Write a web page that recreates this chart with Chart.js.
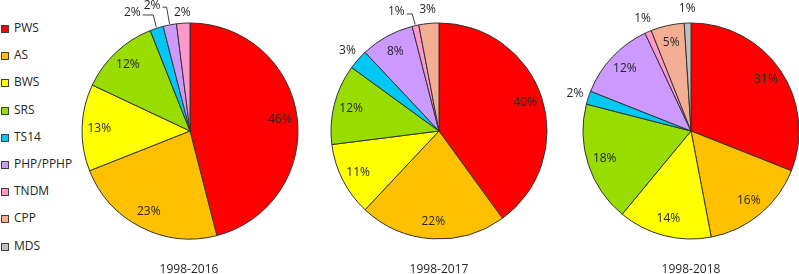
<!DOCTYPE html>
<html>
<head>
<meta charset="utf-8">
<script src="https://cdn.jsdelivr.net/npm/chart.js@4.4.1/dist/chart.umd.min.js"></script>
<style>
  body { margin: 0; background: #fff; overflow: hidden; width: 799px; height: 274px; position: relative; font-family: "Open Sans", sans-serif; }
  canvas { position: absolute; top: 0; }
  .legend { position: absolute; left: 1px; top: 14px; font-size: 12px; color: #262626; }
  .legend div { height: 27.2px; line-height: 27.2px; white-space: nowrap; }
  .legend span { display: inline-block; width: 6px; height: 6px; border: 1px solid #404040; margin-right: 5px; vertical-align: -1px; }
  .title { position: absolute; top: 260px; width: 200px; text-align: center; font-size: 12px; color: #262626; }
</style>
</head>
<body>
<div class="legend" id="legend"></div>
<canvas id="pie1" width="240" height="262" style="left:70px"></canvas>
<canvas id="pie2" width="240" height="262" style="left:319px"></canvas>
<canvas id="pie3" width="250" height="262" style="left:561px"></canvas>
<div class="title" style="left:89px">1998-2016</div>
<div class="title" style="left:339px">1998-2017</div>
<div class="title" style="left:591px">1998-2018</div>
<script>
const categories = ["PWS", "AS", "BWS", "SRS", "TS14", "PHP/PPHP", "TNDM", "CPP", "MDS"];
const colors = ["#ff0000", "#ffc000", "#ffff00", "#99dd00", "#00c8f5", "#cc99ff", "#ff99cc", "#f4ae94", "#bfbfbf"];
const periods = ["1998-2016", "1998-2017", "1998-2018"];
const share2016 = [46, 23, 13, 12, 2, 2, 2, 0, 0];
const share2017 = [40, 22, 11, 12, 3, 8, 1, 3, 0];
const share2018 = [31, 16, 14, 18, 2, 12, 1, 5, 1];

// legend
const legend = document.getElementById("legend");
categories.forEach((c, i) => {
  const row = document.createElement("div");
  row.innerHTML = '<span style="background:' + colors[i] + '"></span>' + c;
  legend.appendChild(row);
});

// percent labels, inside for big slices, outside (with optional leader) for small ones
const pctLabels = {
  id: "pctLabels",
  afterDatasetsDraw(chart, args, opts) {
    const ctx = chart.ctx;
    const data = chart.data.datasets[0].data;
    const moved = opts.moved || {};
    ctx.save();
    ctx.font = "12px 'Open Sans'";
    ctx.fillStyle = "#262626";
    ctx.strokeStyle = "#404040";
    ctx.lineWidth = 1;
    ctx.textAlign = "center";
    ctx.textBaseline = "middle";
    chart.getDatasetMeta(0).data.forEach((arc, i) => {
      const v = data[i];
      if (!v) return;
      const p = arc.getProps(["x", "y", "startAngle", "endAngle", "outerRadius"], true);
      const mid = (p.startAngle + p.endAngle) / 2;
      const cos = Math.cos(mid), sin = Math.sin(mid);
      const text = v + "%";
      if (v >= 5) {
        ctx.fillText(text, p.x + cos * p.outerRadius * 0.84, p.y + sin * p.outerRadius * 0.84);
        return;
      }
      let lx = p.x + cos * (p.outerRadius + 14);
      let ly = p.y + sin * (p.outerRadius + 14);
      const m = moved[i];
      if (m) {
        lx += m.dx; ly += m.dy;
        if (m.leader) {
          const w = ctx.measureText(text).width;
          const ex = p.x + cos * (p.outerRadius + 1);
          const ey = p.y + sin * (p.outerRadius + 1);
          ctx.beginPath();
          ctx.moveTo(lx + w / 2 + 2, ly + 2);
          ctx.lineTo(ex - 3, ly + 2);
          ctx.lineTo(ex, ey);
          ctx.stroke();
        }
      }
      ctx.fillText(text, lx, ly);
    });
    ctx.restore();
  }
};

function makePie(id, values, moved, padLeft) {
  return new Chart(document.getElementById(id), {
    type: "pie",
    data: {
      labels: categories,
      datasets: [{
        data: values,
        backgroundColor: colors,
        borderColor: "#333333",
        borderWidth: 1,
        hoverOffset: 0,
        radius: 108
      }]
    },
    options: {
      responsive: false,
      animation: false,
      events: [],
      layout: { padding: { left: padLeft || 0 } },
      plugins: {
        legend: { display: false },
        tooltip: { enabled: false },
        pctLabels: { moved: moved }
      }
    },
    plugins: [pctLabels]
  });
}

makePie("pie1", share2016, { 4: { dx: -20, dy: -2, leader: true }, 5: { dx: -15, dy: -6, leader: true }, 6: { dx: 0, dy: 3 } });
makePie("pie2", share2017, { 6: { dx: -16, dy: 0, leader: true } });
makePie("pie3", share2018, {}, 10);
</script>
</body>
</html>
